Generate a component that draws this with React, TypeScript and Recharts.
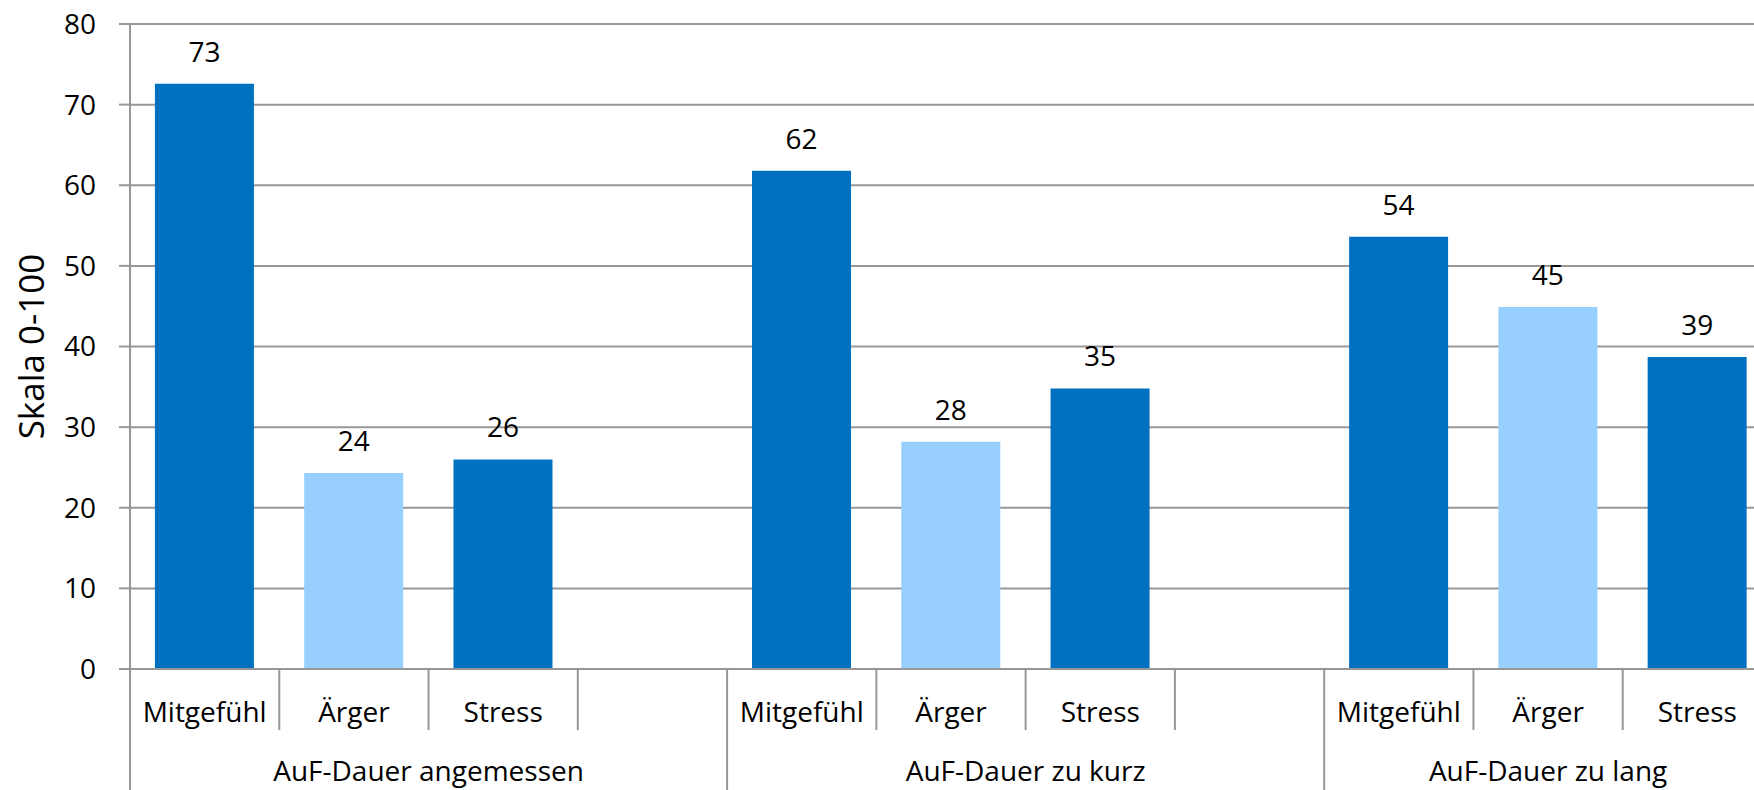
import { BarChart, Bar, XAxis, YAxis, CartesianGrid, Cell, LabelList } from "recharts";

const groups = ["AuF-Dauer angemessen", "AuF-Dauer zu kurz", "AuF-Dauer zu lang"];
const measures = ["Mitgefühl", "Ärger", "Stress"];

// mean scale values (0-100) per measure, one array per group
const angemessen = [72.6, 24.3, 26.0];
const zuKurz = [61.8, 28.2, 34.8];
const zuLang = [53.6, 44.9, 38.7];

const yTicks = [0, 10, 20, 30, 40, 50, 60, 70, 80];

const DARK = "#0070C0";
const LIGHT = "#97D0FF";
const GRID = "#979797";
const FONT = "'Open Sans', sans-serif";

type Row = { sub: string; group: string; value: number | null; pos: number; size: number };

// the first two groups carry an empty spacer slot at the end, the last one doesn't
const rows: Row[] = [angemessen, zuKurz, zuLang].flatMap((vals, g) => {
  const slots = g < groups.length - 1 ? [...measures, ""] : measures;
  return slots.map((m, i) => ({
    sub: m,
    group: groups[g],
    value: i < vals.length ? vals[i] : null,
    pos: i,
    size: slots.length,
  }));
});

function CategoryTick(props: any) {
  const { x, y, payload, index } = props;
  const row = rows[index];
  const half = payload.offset;
  const left = payload.coordinate - half;
  const startsGroup = row.pos === 0;
  return (
    <g>
      <line
        x1={left}
        x2={left}
        y1={y}
        y2={startsGroup ? y + 121 : y + 61}
        stroke={GRID}
        strokeWidth={2}
      />
      <text x={x} y={y + 53} textAnchor="middle" fontSize={28} fontFamily={FONT} fill="#000">
        {payload.value}
      </text>
      {startsGroup && (
        <text x={left + row.size * half} y={y + 112} textAnchor="middle" fontSize={28} fontFamily={FONT} fill="#000">
          {row.group}
        </text>
      )}
    </g>
  );
}

function AxisTitle(props: any) {
  const { viewBox } = props;
  const cx = viewBox.x + 30;
  const cy = viewBox.y + viewBox.height / 2;
  return (
    <text
      x={cx}
      y={cy}
      transform={`rotate(-90, ${cx}, ${cy})`}
      textAnchor="middle"
      dominantBaseline="central"
      fontSize={35}
      fontFamily={FONT}
      fill="#000"
    >
      Skala 0-100
    </text>
  );
}

export default function App() {
  return (
    <div
      style={{
        position: "absolute",
        left: 0,
        top: 0,
        width: 1754,
        height: 790,
        overflow: "hidden",
        background: "#fff",
      }}
    >
      <BarChart
        width={1772}
        height={790}
        data={rows}
        margin={{ top: 24, right: 0, left: 0, bottom: 0 }}
        barCategoryGap="16.7%"
      >
        <CartesianGrid vertical={false} stroke={GRID} strokeWidth={2} />
        <XAxis
          dataKey="sub"
          height={121}
          interval={0}
          tickSize={0}
          tickMargin={0}
          tickLine={false}
          axisLine={{ stroke: GRID, strokeWidth: 2 }}
          tick={<CategoryTick />}
        />
        <YAxis
          width={130}
          domain={[0, 80]}
          ticks={yTicks}
          interval={0}
          tickSize={11}
          tickMargin={23}
          axisLine={{ stroke: GRID, strokeWidth: 2 }}
          tickLine={{ stroke: GRID, strokeWidth: 2 }}
          tick={{ fill: "#000", fontSize: 28, fontFamily: FONT }}
          label={{ content: <AxisTitle /> }}
        />
        <Bar dataKey="value" isAnimationActive={false}>
          {rows.map((r, i) => (
            <Cell key={i} fill={r.sub === "Ärger" ? LIGHT : DARK} />
          ))}
          <LabelList
            dataKey="value"
            position="top"
            offset={22}
            fill="#000"
            fontSize={28}
            fontFamily={FONT}
            formatter={(v: any) => (v == null ? "" : Math.round(v).toString())}
          />
        </Bar>
      </BarChart>
    </div>
  );
}
